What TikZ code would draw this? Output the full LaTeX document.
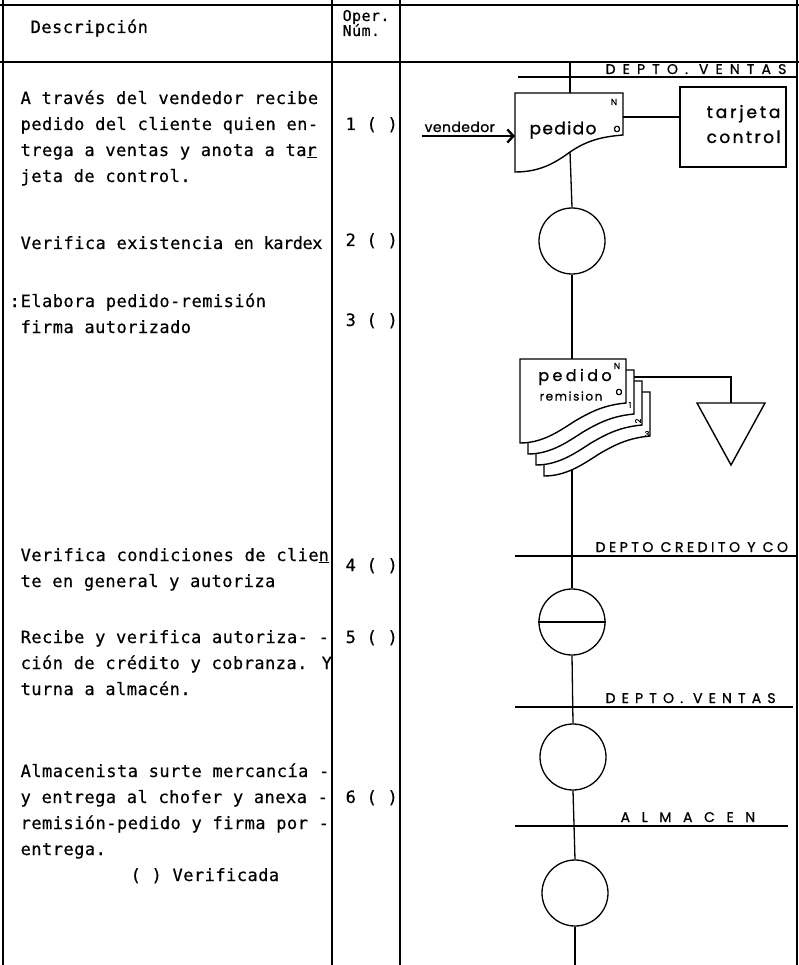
\documentclass[tikz,border=0pt]{standalone}
\usepackage{fontspec}
\usetikzlibrary{arrows.meta}
\newfontfamily\twfont{DejaVu Sans Mono}[LetterSpace=2.8,FakeBold=0.5]
\newfontfamily\handfont{Poppins}[FakeBold=1]
\begin{document}
\begin{tikzpicture}[x=1pt,y=-1pt,line width=1.3pt,
  tw/.style={anchor=base west,inner sep=0pt,font=\twfont\fontsize{17}{17}\selectfont},
  hand/.style 2 args={inner sep=0pt,font={\handfont\fontsize{#1}{#1}\selectfont\addfontfeature{LetterSpace=#2}}},
  opcircle/.style={circle,draw,fill=white,minimum size=66pt,inner sep=0pt},
  docfill/.style={draw,fill=white,line width=1.4pt},
  pics/doc/.style={code={\draw[docfill] (0,0) -- (106,0) -- (106,44) .. controls (85,46) and (72,52) .. (55,62) .. controls (38,73) and (22,84) .. (0,84) -- cycle;}}]
\useasboundingbox (0,0) rectangle (799,965);
% table grid
\draw (0,5) -- (799,5);
\draw (0,62) -- (799,62);
\draw (3,0) -- (3,965);
\draw (332,0) -- (332,965);
\draw (400,0) -- (400,965);
\draw (797,0) -- (797,965);
% header
\node[tw] (hdesc) at (30,33) {Descripción};
\node[tw,font=\twfont\fontsize{15}{15}\selectfont] (hop) at (342,21) {Oper.};
\node[tw,font=\twfont\fontsize{15}{15}\selectfont] (hnum) at (342,36) {Núm.};
% description column
\node[tw] (t1) at (20,104) {A través del vendedor recibe};
\node[tw] (t2) at (20,130) {pedido del cliente quien en-};
\node[tw] (t3) at (20,156) {trega a ventas y anota a ta\underline{r}};
\node[tw] (t4) at (20,182) {jeta de control.};
\node[tw] (t5) at (20,249) {Verifica existencia {\addfontfeature{LetterSpace=-3}en kardex}};
\node[tw] (t6c) at (9,307) {:};
\node[tw] (t6) at (20,307) {Elabora pedido-remisión};
\node[tw] (t7) at (20,333) {firma autorizado};
\node[tw] (t8) at (20,561) {Verifica condiciones de clie\underline{n}};
\node[tw] (t9) at (20,587) {te en general y autoriza};
\node[tw] (t10) at (20,643) {Recibe y verifica autoriza- -};
\node[tw] (t11) at (20,669) {ción de crédito y cobranza. Y};
\node[tw] (t12) at (20,695) {turna a almacén.};
\node[tw] (t13) at (20,777) {Almacenista surte mercancía -};
\node[tw] (t14) at (20,803) {y entrega al chofer y anexa -};
\node[tw] (t15) at (20,829) {remisión-pedido y firma por -};
\node[tw] (t16) at (20,855) {entrega.};
\node[tw] (t17) at (130,881) {( ) Verificada};
% operation numbers
\node[tw] (o1) at (345,130) {1 ( )};
\node[tw] (o2) at (345,246) {2 ( )};
\node[tw] (o3) at (345,326) {3 ( )};
\node[tw] (o4) at (345,571) {4 ( )};
\node[tw] (o5) at (345,643) {5 ( )};
\node[tw] (o6) at (345,803) {6 ( )};
% lanes
\draw (518,77) -- (797,77);
\node[hand={14}{51},anchor=base west] (lane1) at (605,74) {DEPTO. VENTAS};
\draw (515,556) -- (797,556);
\node[hand={14}{25},anchor=base west] (lane2) at (595,552) {DEPTO CREDITO Y CO};
\draw (515,707) -- (793,707);
\node[hand={14}{44},anchor=base west] (lane3) at (605,703) {DEPTO. VENTAS};
\draw (515,826) -- (788,826);
\node[hand={14}{83},anchor=base west] (lane4) at (620,822) {ALMACEN};
% flow line coordinates
\coordinate (ftop) at (570,63);
\coordinate (pedN) at (570,93);
\coordinate (pedS) at (570,152);
\coordinate (pedE) at (623,117);
\coordinate (stN) at (572,359);
\coordinate (stS) at (572,466);
\coordinate (st2E) at (634,377);
\coordinate (trT) at (731,403);
\coordinate (fbot) at (575,965);
\coordinate (vstart) at (422,136);
\coordinate (vend) at (515,136);
% circles
\node[opcircle] (c1) at (572,241) {};
\node[opcircle] (c2) at (572,622) {};
\draw (c2.west) -- (c2.east);
\node[opcircle] (c3) at (573,757) {};
\node[opcircle] (c4) at (575,893) {};
% connectors
\draw (ftop) -- (pedN);
\draw (pedS) -- (c1.north);
\draw (c1.south) -- (stN);
\draw (stS) -- (c2.north);
\draw (c2.south) -- (c3.north);
\draw (c3.south) -- (c4.north);
\draw (c4.south) -- (fbot);
% pedido document
\draw[docfill] (515,93) -- (623,93) -- (623,135) .. controls (598,137) and (585,142) .. (570,152) .. controls (555,163) and (540,172) .. (515,172) -- cycle;
\node[hand={17}{8}] (ped) at (563,130) {pedido};
\node[hand={9}{0}] (pedn) at (614,102) {N};
\node[hand={11}{0}] (pedo) at (617,129) {o};
% vendedor arrow
\draw[-{Straight Barb[length=6pt,width=13pt,line width=2.4pt]}] (vstart) -- (vend);
\node[hand={14}{3},anchor=base west] (vendl) at (424,132) {vendedor};
% tarjeta control
\node[draw,minimum width=106pt,minimum height=80pt,inner sep=0pt] (tar) at (733,127) {};
\node[hand={17}{17},anchor=base west] (tar1) at (706,118) {tarjeta};
\node[hand={17}{14},anchor=base west] (tar2) at (706,143) {control};
\draw (pedE) -- (pedE -| tar.west);
% pedido-remision stack
\draw (st2E) -| (trT);
\pic at (544,392) {doc};
\pic at (536,381) {doc};
\pic at (528,370) {doc};
\pic at (520,359) {doc};
\node[hand={16}{21}] (sped) at (575,377) {pedido};
\node[hand={12}{13}] (srem) at (571,396) {remision};
\node[hand={9}{0}] (sn) at (617,366) {N};
\node[hand={11}{0}] (so) at (619,392) {o};
\node[hand={8}{0}] (s1) at (630,405) {1};
\node[hand={8}{0},rotate=90] (s2) at (638,421) {2};
\node[hand={8}{0}] (s3) at (647,434) {3};
% storage triangle
\draw[line width=1.4pt] (697,403) -- (765,403) -- (731,465) -- cycle;
\end{tikzpicture}
\end{document}
